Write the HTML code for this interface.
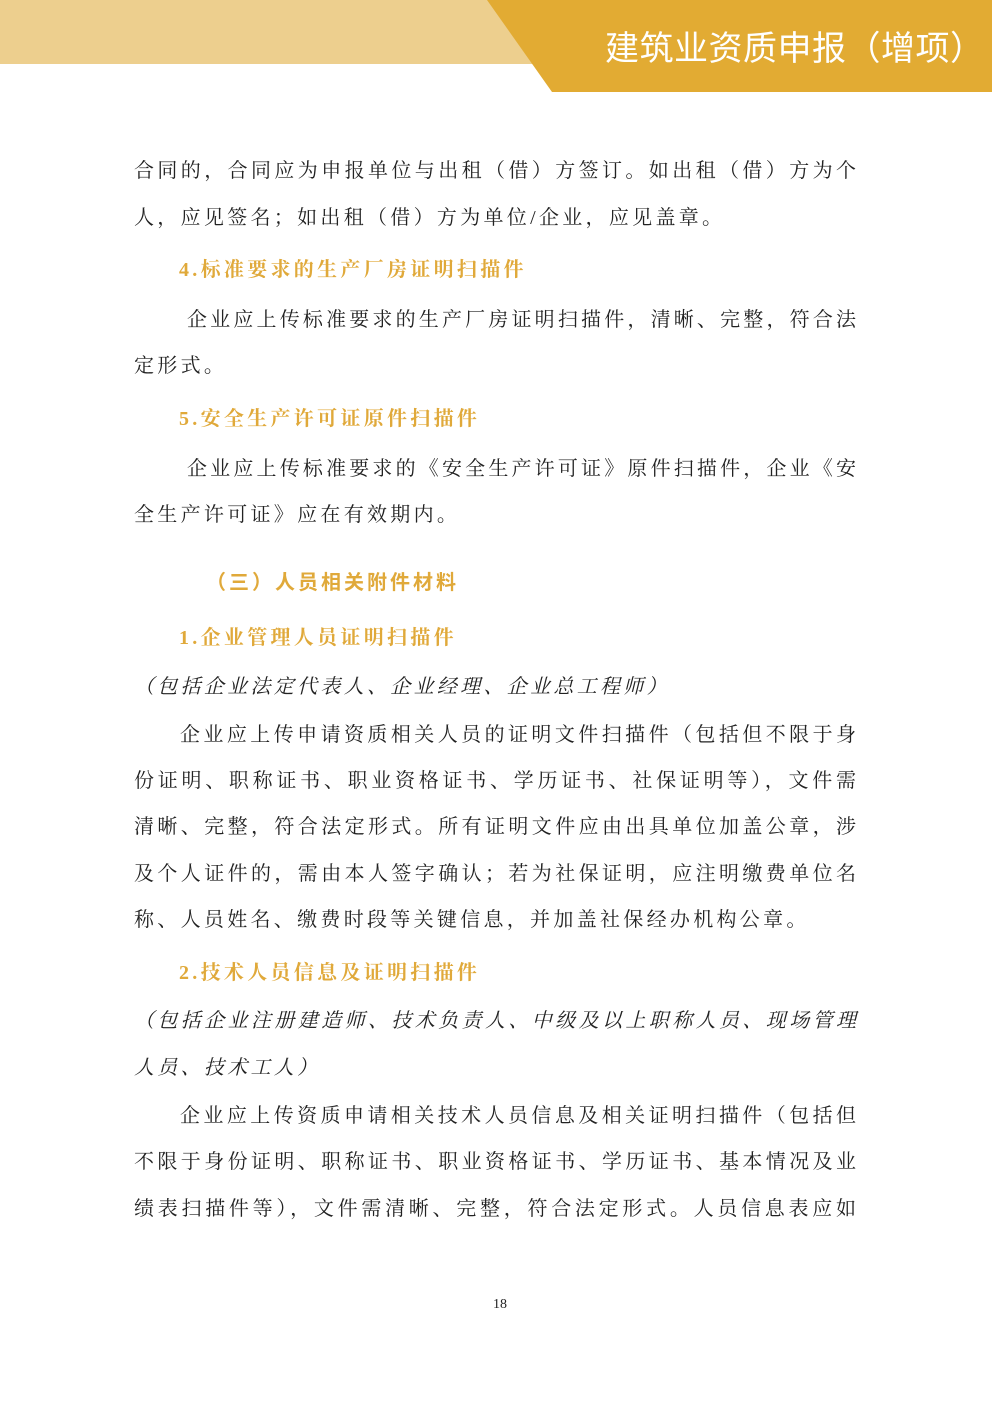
<!DOCTYPE html>
<html><head><meta charset="utf-8"><style>
body{margin:0;width:992px;height:1403px;position:relative;background:#fff;overflow:hidden;font-family:"Liberation Serif","Noto Serif CJK SC",serif;color:#222}
.l{position:absolute;left:134px;font-size:20px;line-height:24px;white-space:nowrap;letter-spacing:3.3px}
.j{width:722px;text-align:justify;text-align-last:justify;letter-spacing:0}
.h{color:#e0a93a;font-weight:bold;letter-spacing:3.3px}
.i{font-style:italic}
</style></head><body>
<div style="position:absolute;left:0;top:0;width:560px;height:64px;background:#edcf8e"></div>
<svg style="position:absolute;left:0;top:0" width="992" height="93"><polygon points="487,0 992,0 992,92 552,92" fill="#e2ab33"/></svg>
<div style="position:absolute;left:605px;top:29px;font-size:34px;line-height:40px;color:#fff;font-family:'Liberation Sans','Noto Sans CJK SC',sans-serif;white-space:nowrap;letter-spacing:0.5px">建筑业资质申报（增项）</div>

<div class="l j" style="top:159px">合同的，合同应为申报单位与出租（借）方签订。如出租（借）方为个</div>
<div class="l" style="top:206px">人，应见签名；如出租（借）方为单位/企业，应见盖章。</div>
<div class="l h" style="top:258px;left:179px">4.标准要求的生产厂房证明扫描件</div>
<div class="l j" style="top:308px;left:187px;width:669px">企业应上传标准要求的生产厂房证明扫描件，清晰、完整，符合法</div>
<div class="l" style="top:354px">定形式。</div>
<div class="l h" style="top:407px;left:179px">5.安全生产许可证原件扫描件</div>
<div class="l j" style="top:457px;left:187px;width:669px">企业应上传标准要求的《安全生产许可证》原件扫描件，企业《安</div>
<div class="l" style="top:503px">全生产许可证》应在有效期内。</div>
<div class="l h" style="top:571px;left:206px;letter-spacing:3px;font-family:'Liberation Sans','Noto Sans CJK SC',sans-serif">（三）人员相关附件材料</div>
<div class="l h" style="top:626px;left:179px">1.企业管理人员证明扫描件</div>
<div class="l i" style="top:675px">（包括企业法定代表人、企业经理、企业总工程师）</div>
<div class="l j" style="top:723px;left:180px;width:676px">企业应上传申请资质相关人员的证明文件扫描件（包括但不限于身</div>
<div class="l j" style="top:769px">份证明、职称证书、职业资格证书、学历证书、社保证明等），文件需</div>
<div class="l j" style="top:815px">清晰、完整，符合法定形式。所有证明文件应由出具单位加盖公章，涉</div>
<div class="l j" style="top:862px">及个人证件的，需由本人签字确认；若为社保证明，应注明缴费单位名</div>
<div class="l" style="top:908px">称、人员姓名、缴费时段等关键信息，并加盖社保经办机构公章。</div>
<div class="l h" style="top:961px;left:179px">2.技术人员信息及证明扫描件</div>
<div class="l j i" style="top:1009px">（包括企业注册建造师、技术负责人、中级及以上职称人员、现场管理</div>
<div class="l i" style="top:1056px">人员、技术工人）</div>
<div class="l j" style="top:1104px;left:180px;width:676px">企业应上传资质申请相关技术人员信息及相关证明扫描件（包括但</div>
<div class="l j" style="top:1150px">不限于身份证明、职称证书、职业资格证书、学历证书、基本情况及业</div>
<div class="l j" style="top:1197px">绩表扫描件等），文件需清晰、完整，符合法定形式。人员信息表应如</div>
<div style="position:absolute;left:493px;top:1297px;font-size:14px;line-height:16px">18</div>
</body></html>
